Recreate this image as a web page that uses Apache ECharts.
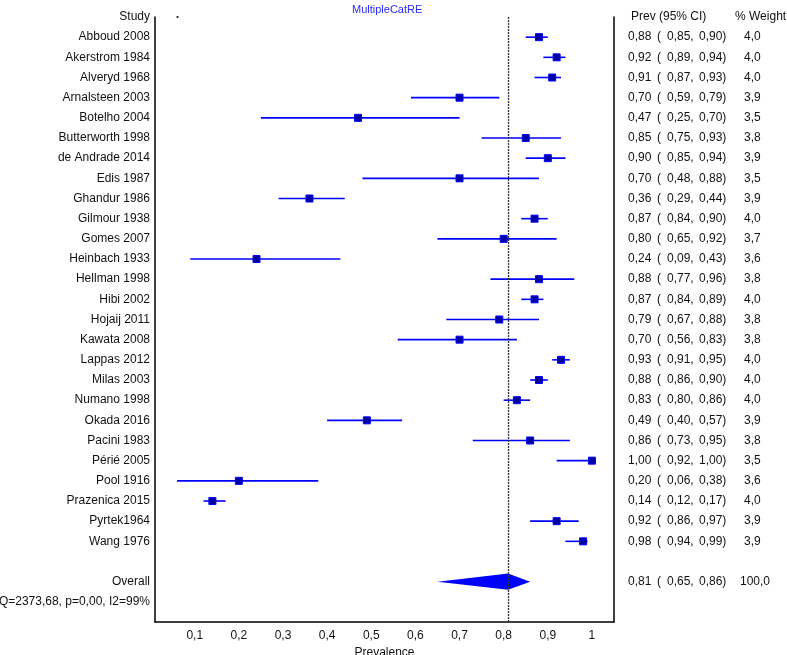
<!DOCTYPE html>
<html>
<head>
<meta charset="utf-8">
<script src="https://cdn.jsdelivr.net/npm/echarts@6/dist/echarts.min.js"></script>
<style>
html,body{margin:0;padding:0;background:#fff;}
#chart{width:787px;height:655px;}
</style>
</head>
<body>
<div id="chart"></div>
<script>
const studies = ['Abboud 2008','Akerstrom 1984','Alveryd 1968','Arnalsteen 2003','Botelho 2004','Butterworth 1998','de Andrade 2014','Edis 1987','Ghandur 1986','Gilmour 1938','Gomes 2007','Heinbach 1933','Hellman 1998','Hibi 2002','Hojaij 2011','Kawata 2008','Lappas 2012','Milas 2003','Numano 1998','Okada 2016','Pacini 1983','Périé 2005','Pool 1916','Prazenica 2015','Pyrtek1964','Wang 1976'];
const prev   = [0.88,0.92,0.91,0.70,0.47,0.85,0.90,0.70,0.36,0.87,0.80,0.24,0.88,0.87,0.79,0.70,0.93,0.88,0.83,0.49,0.86,1.00,0.20,0.14,0.92,0.98];
const lower  = [0.85,0.89,0.87,0.59,0.25,0.75,0.85,0.48,0.29,0.84,0.65,0.09,0.77,0.84,0.67,0.56,0.91,0.86,0.80,0.40,0.73,0.92,0.06,0.12,0.86,0.94];
const upper  = [0.90,0.94,0.93,0.79,0.70,0.93,0.94,0.88,0.44,0.90,0.92,0.43,0.96,0.89,0.88,0.83,0.95,0.90,0.86,0.57,0.95,1.00,0.38,0.17,0.97,0.99];
const weight = [4.0,4.0,4.0,3.9,3.5,3.8,3.9,3.5,3.9,4.0,3.7,3.6,3.8,4.0,3.8,3.8,4.0,4.0,4.0,3.9,3.8,3.5,3.6,4.0,3.9,3.9];
const overallEst = [0.81];
const overallLower = [0.65];
const overallUpper = [0.86];
const overallWeight = [100.0];
const xTicks = [0.1,0.2,0.3,0.4,0.5,0.6,0.7,0.8,0.9,1.0];
const heterogeneity = 'Q=2373,68, p=0,00, I2=99%';
const strayDot = [[0.061, 0]];

const OVERALL_ROW = studies.length + 2;
const Q_ROW = studies.length + 3;
const fmt2 = v => v.toFixed(2).replace('.', ',');
const fmt1 = v => v.toFixed(1).replace('.', ',');
const FONT = "'Liberation Sans', Arial, sans-serif";
const rowVals = [0];
for (let i = 1; i <= studies.length; i++) rowVals.push(i);

function leftLabel(v) {
  if (v === 0) return 'Study';
  if (v >= 1 && v <= studies.length) return studies[v - 1];
  if (v === OVERALL_ROW) return 'Overall';
  if (v === Q_ROW) return heterogeneity;
  return '';
}
function rightLabel(v) {
  if (v === 0) return '{h|Prev (95% CI)}{w|% Weight}';
  let e, l, u, w, ov = false;
  if (v >= 1 && v <= studies.length) {
    e = prev[v-1]; l = lower[v-1]; u = upper[v-1]; w = weight[v-1];
  } else if (v === OVERALL_ROW) {
    e = overallEst[0]; l = overallLower[0]; u = overallUpper[0]; w = overallWeight[0]; ov = true;
  } else return '';
  return '{a|' + fmt2(e) + '}{b|(}{c|' + fmt2(l) + ',}{' + (ov ? 'd2' : 'd') + '|' + fmt2(u) + ')}{e|' + fmt1(w) + '}';
}

const chart = echarts.init(document.getElementById('chart'));
const txt = {fontFamily: FONT, fontSize: 12, color: '#111'};
const richBase = {fontFamily: FONT, fontSize: 12, color: '#111'};
chart.setOption({
  animation: false,
  title: {
    text: 'MultipleCatRE', left: 347, top: -1,
    textStyle: {fontFamily: FONT, fontSize: 11, fontWeight: 'normal', color: '#2a2aff'}
  },
  grid: {left: 155, right: 173, top: 17, bottom: 33, containLabel: false, outerBoundsMode: 'none'},
  xAxis: {
    type: 'value', min: 0.01, max: 1.05,
    axisLine: {show: true, onZero: false, lineStyle: {color: '#000', width: 1.5}},
    axisTick: {show: false},
    splitLine: {show: false},
    axisLabel: Object.assign({}, txt, {
      customValues: xTicks, margin: 8,
      formatter: v => (Math.abs(v - 1) < 1e-9 ? '1' : v.toFixed(1).replace('.', ','))
    }),
    name: 'Prevalence', nameLocation: 'middle', nameGap: 22,
    nameTextStyle: txt
  },
  yAxis: [{
    type: 'value', inverse: true, min: 0, max: Q_ROW + 1, position: 'left',
    axisLine: {show: true, onZero: false, lineStyle: {color: '#000', width: 1.5}},
    axisTick: {show: false}, splitLine: {show: false},
    axisLabel: Object.assign({}, txt, {
      customValues: rowVals.concat([OVERALL_ROW, Q_ROW]), margin: 5,
      formatter: leftLabel
    })
  }, {
    type: 'value', inverse: true, min: 0, max: Q_ROW + 1, position: 'right',
    axisLine: {show: true, onZero: false, lineStyle: {color: '#000', width: 1.5}},
    axisTick: {show: false}, splitLine: {show: false},
    axisLabel: Object.assign({}, txt, {
      customValues: rowVals.concat([OVERALL_ROW]), margin: 14,
      formatter: rightLabel,
      rich: {
        h: Object.assign({}, richBase, {width: 104, padding: [0,0,0,3]}),
        w: Object.assign({}, richBase),
        a: Object.assign({}, richBase, {width: 29}),
        b: Object.assign({}, richBase, {width: 10}),
        c: Object.assign({}, richBase, {width: 32}),
        d: Object.assign({}, richBase, {width: 45}),
        d2: Object.assign({}, richBase, {width: 41}),
        e: Object.assign({}, richBase)
      }
    })
  }],
  series: [{
    type: 'custom', name: 'studies', clip: false,
    data: studies.map((s, i) => [lower[i], upper[i], prev[i], i + 1]),
    encode: {x: [0, 1, 2], y: 3},
    renderItem: function (params, api) {
      const r = api.value(3);
      const lo = api.coord([api.value(0), r]);
      const hi = api.coord([api.value(1), r]);
      const c = api.coord([api.value(2), r]);
      return {
        type: 'group',
        children: [{
          type: 'line',
          shape: {x1: lo[0], y1: lo[1], x2: hi[0], y2: hi[1]},
          style: {stroke: '#0000ff', lineWidth: 1.6}
        }, {
          type: 'rect',
          shape: {x: c[0] - 3.5, y: c[1] - 3.5, width: 7, height: 7},
          style: {fill: '#0000a0', stroke: '#0000ff', lineWidth: 1}
        }]
      };
    },
    markLine: {
      silent: true, symbol: 'none', label: {show: false},
      lineStyle: {color: '#333', width: 1.3, type: [2, 1]},
      data: [{xAxis: overallEst[0]}]
    }
  }, {
    type: 'custom', name: 'overall', clip: false,
    data: overallEst.map((e, i) => [overallLower[i], overallUpper[i], e, OVERALL_ROW]),
    encode: {x: [0, 1, 2], y: 3},
    renderItem: function (params, api) {
      const r = api.value(3);
      const lo = api.coord([api.value(0), r]);
      const hi = api.coord([api.value(1), r]);
      const c = api.coord([api.value(2), r]);
      const hh = api.size([0, 1])[1] * 0.4;
      return {
        type: 'polygon',
        shape: {points: [lo, [c[0], c[1] - hh], hi, [c[0], c[1] + hh]]},
        style: {fill: '#0000ff'}
      };
    }
  }, {
    type: 'scatter', symbol: 'rect', symbolSize: 2,
    itemStyle: {color: '#000'}, data: strayDot, silent: true
  }]
});
</script>
</body>
</html>
